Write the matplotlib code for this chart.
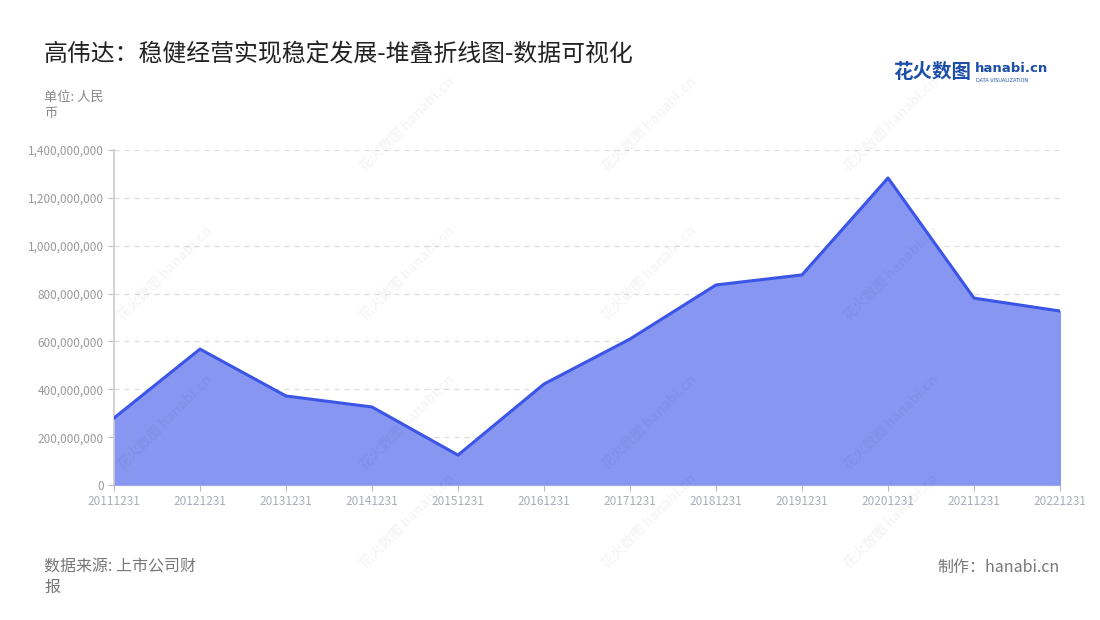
import matplotlib.pyplot as plt
from matplotlib.ticker import FuncFormatter

plt.rcParams['font.family'] = ['Noto Sans CJK SC', 'DejaVu Sans']

dates = ['20111231', '20121231', '20131231', '20141231', '20151231', '20161231',
         '20171231', '20181231', '20191231', '20201231', '20211231', '20221231']
profit = [280e6, 568e6, 372e6, 326e6, 125e6, 422e6,
          610e6, 836e6, 878e6, 1283e6, 781e6, 727e6]
yticks = [0, 200e6, 400e6, 600e6, 800e6, 1000e6, 1200e6, 1400e6]

fig = plt.figure(figsize=(11, 6.2), dpi=100)
ax = fig.add_axes([114/1100, 135/620, 946/1100, 335/620])

x = list(range(len(dates)))
ax.fill_between(x, profit, 0, color='#8796f1', zorder=2)
ax.plot(x, profit, color='#3b55e6', lw=2.2, zorder=3)

ax.set_xlim(0, len(dates) - 1)
ax.set_ylim(0, 1.4e9)
ax.set_xticks(x)
ax.set_xticklabels(dates)
ax.set_yticks(yticks)
ax.yaxis.set_major_formatter(FuncFormatter(lambda v, p: f'{int(v):,}'))
ax.tick_params(axis='both', colors='#bbbbbb', labelcolor='#999999', labelsize=8.5, length=4)
ax.tick_params(axis='x', labelcolor='#a8adb8')
ax.grid(axis='y', linestyle=(0, (4, 4)), color='#dddddd', lw=0.9, zorder=1)
for s in ['top', 'right']:
    ax.spines[s].set_visible(False)
ax.spines['left'].set_color('#cccccc')
ax.spines['left'].set_linewidth(1.2)
ax.spines['bottom'].set_color('#9aa6ee')

# faint watermarks
for wx, wy in [(0.37, 0.80), (0.59, 0.80), (0.81, 0.80),
               (0.15, 0.56), (0.37, 0.56), (0.59, 0.56), (0.81, 0.56),
               (0.15, 0.32), (0.37, 0.32), (0.59, 0.32), (0.81, 0.32),
               (0.37, 0.16), (0.59, 0.16), (0.81, 0.16)]:
    fig.text(wx, wy, '花火数图 hanabi.cn', fontsize=10, color='#000000', alpha=0.04,
             rotation=45, ha='center', va='center', fontweight='bold')

fig.text(44/1100, 1 - 55/620, '高伟达：稳健经营实现稳定发展-堆叠折线图-数据可视化',
         fontsize=17.2, color='#222222', va='center')
fig.text(44/1100, 1 - 105/620, '单位: 人民\n币', fontsize=9.5, color='#888888',
         va='center', linespacing=1.3)
fig.text(44/1100, 1 - 577/620, '数据来源: 上市公司财\n报', fontsize=11.5, color='#777777',
         va='center', linespacing=1.3)
fig.text(1060/1100, 1 - 567/620, '制作：hanabi.cn', fontsize=11.5, color='#777777',
         va='center', ha='right')

# logo
fig.text(893/1100, 1 - 72/620, '花火数图', fontsize=14, color='#1d4fa8',
         va='center', fontweight='bold')
fig.text(975/1100, 1 - 69/620, 'hanabi.cn', fontsize=9.5, color='#1d4fa8',
         va='center', fontweight='bold', family=['DejaVu Sans'])
fig.text(976/1100, 1 - 80/620, 'DATA VISUALIZATION', fontsize=3.6, color='#1d4fa8',
         va='center', family=['DejaVu Sans'])

fig.savefig('out.png', dpi=100)
